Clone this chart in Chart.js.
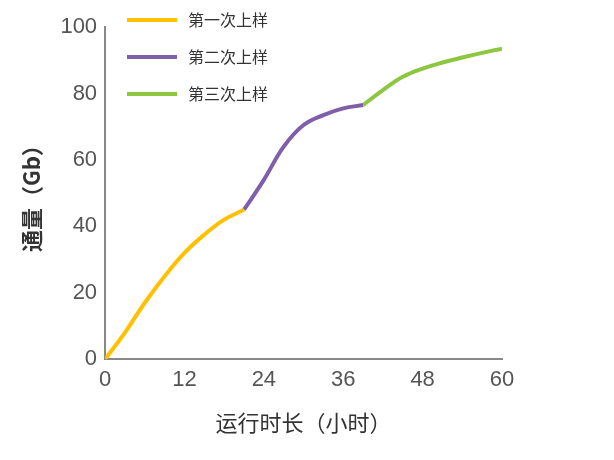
<!DOCTYPE html>
<html><head><meta charset="utf-8">
<script src="https://cdn.jsdelivr.net/npm/chart.js@4/dist/chart.umd.min.js"></script>
<style>body{margin:0;background:#fff}#w{width:614px;height:460px}</style></head>
<body><div id="w"><canvas id="c"></canvas></div>
<script>
const seriesNames=['第一次上样','第二次上样','第三次上样'];
const colors=['#FFC000','#7F5FAA','#8DC63F'];
const s1X=[0,3,6,9,12,15,18,21];
const s1Y=[0,8,17,25,32,37.5,42,45];
const s2X=[21,24,27,30,33,36,39];
const s2Y=[45,54,64,70.5,73.5,75.5,76.5];
const s3X=[39,42,45,48,51,54,57,60];
const s3Y=[76.5,81,85,87.5,89.3,90.8,92.2,93.5];
const xTicks=[0,12,24,36,48,60];
const yTicks=[0,20,40,60,80,100];
const xs=[s1X,s2X,s3X], ys=[s1Y,s2Y,s3Y];
const cjk="'Noto Sans CJK SC', sans-serif";
const latin="'Liberation Sans', Arial, sans-serif";
const legendPlugin={id:'lg',afterDraw(ch){const c=ch.ctx;c.save();
 c.font="16px "+cjk;c.textBaseline='middle';
 ch.data.datasets.forEach((d,i)=>{const y=20+i*37;c.strokeStyle=d.borderColor;c.lineWidth=4;
 c.beginPath();c.moveTo(127,y);c.lineTo(177,y);c.stroke();c.fillStyle='#333';c.fillText(d.label,188,y);});
 c.restore();}};
new Chart(document.getElementById('c'),{type:'line',
data:{datasets:seriesNames.map((n,i)=>({label:n,data:xs[i].map((x,j)=>({x,y:ys[i][j]})),borderColor:colors[i],borderWidth:4,pointRadius:0,tension:0.4,fill:false}))},
options:{responsive:true,maintainAspectRatio:false,animation:false,
layout:{padding:{top:27,right:112,left:14,bottom:20}},
plugins:{legend:{display:false},tooltip:{enabled:false}},
scales:{
x:{type:'linear',min:0,max:60,afterBuildTicks:a=>{a.ticks=xTicks.map(v=>({value:v}))},grid:{display:false,tickColor:'#888',tickLength:6},border:{color:'#888',width:2},
 ticks:{color:'#555',font:{size:22,family:latin},padding:2,maxRotation:0},
 title:{display:true,text:'运行时长（小时）',color:'#333',font:{size:22,family:cjk},padding:{top:14}}},
y:{min:0,max:100,afterBuildTicks:a=>{a.ticks=yTicks.map(v=>({value:v}))},grid:{display:false,tickColor:'#888',tickLength:6},border:{color:'#888',width:2},
 ticks:{color:'#555',font:{size:22,family:latin},padding:2},
 title:{display:true,text:'通量（Gb）',color:'#333',font:{size:22,family:cjk,weight:'bold'},padding:{bottom:14}}}}},
plugins:[legendPlugin]});
</script></body></html>
